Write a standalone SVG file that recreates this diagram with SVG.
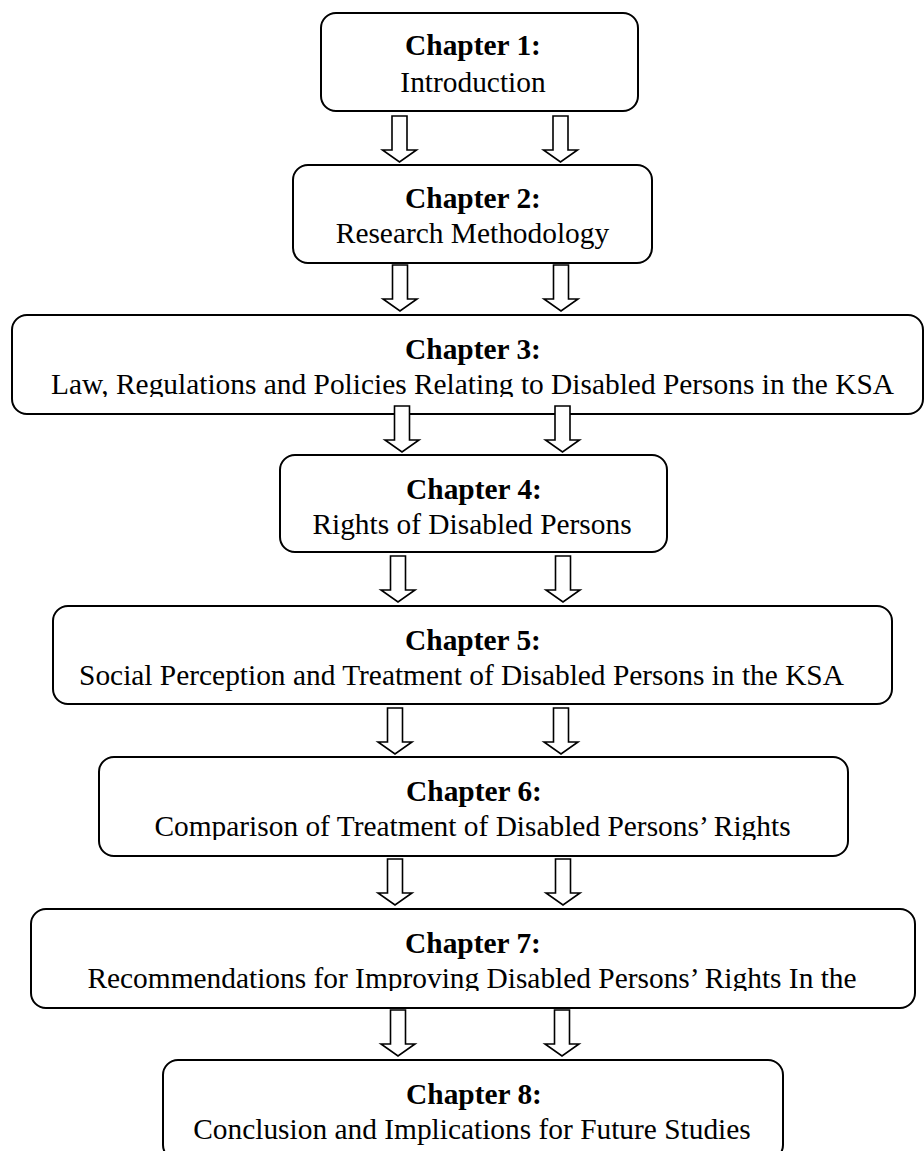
<svg xmlns="http://www.w3.org/2000/svg" width="924" height="1151" viewBox="0 0 924 1151">
<style>
.box{fill:#fff;stroke:#000;stroke-width:2}
.arr{fill:#fff;stroke:#000;stroke-width:1.6;stroke-linejoin:miter}
.t{font-family:"Liberation Serif","Times New Roman",serif;font-size:29.4px;fill:#000;text-anchor:middle}
.b{font-weight:bold}
</style>
<defs>
<clipPath id="c3"><rect x="0" y="300" width="924" height="97"/></clipPath>
<clipPath id="c6"><rect x="0" y="740" width="924" height="100"/></clipPath>
<clipPath id="c7"><rect x="0" y="890" width="924" height="101"/></clipPath>
<path id="a" d="M-7.5,0 H7.5 V34 H17 L0,46 L-17,34 H-7.5 Z"/>
</defs>
<rect width="924" height="1151" fill="#fff"/>
<g id="n1"><rect class="box" x="321" y="13" width="317" height="98" rx="15"/>
<text class="t b" x="473" y="55">Chapter 1:</text><text class="t" x="473" y="92">Introduction</text></g>
<g id="n2"><rect class="box" x="293" y="165" width="359" height="98" rx="15"/>
<text class="t b" x="473" y="208">Chapter 2:</text><text class="t" x="472.5" y="243">Research Methodology</text></g>
<g id="n3"><rect class="box" x="12" y="315" width="911" height="99" rx="15"/>
<text class="t b" x="473" y="359">Chapter 3:</text><text class="t" x="472.5" y="394" clip-path="url(#c3)">Law, Regulations and Policies Relating to Disabled Persons in the KSA</text></g>
<g id="n4"><rect class="box" x="280" y="455" width="387" height="97" rx="15"/>
<text class="t b" x="474" y="499">Chapter 4:</text><text class="t" x="472" y="534">Rights of Disabled Persons</text></g>
<g id="n5"><rect class="box" x="53" y="606" width="839" height="98" rx="15"/>
<text class="t b" x="473" y="650">Chapter 5:</text><text class="t" x="461.5" y="685">Social Perception and Treatment of Disabled Persons in the KSA</text></g>
<g id="n6"><rect class="box" x="99" y="757" width="749" height="99" rx="15"/>
<text class="t b" x="474" y="801">Chapter 6:</text><text class="t" x="472.5" y="836" clip-path="url(#c6)">Comparison of Treatment of Disabled Persons’ Rights</text></g>
<g id="n7"><rect class="box" x="31" y="909" width="884" height="99" rx="15"/>
<text class="t b" x="473" y="953">Chapter 7:</text><text class="t" x="472" y="988" clip-path="url(#c7)">Recommendations for Improving Disabled Persons’ Rights In the</text></g>
<g id="n8"><rect class="box" x="163" y="1060" width="620" height="100" rx="15"/>
<text class="t b" x="474" y="1104">Chapter 8:</text><text class="t" x="472" y="1139">Conclusion and Implications for Future Studies</text></g>
<g id="connectors">
<use href="#a" class="arr" x="399.5" y="116"/><use href="#a" class="arr" x="560.5" y="116"/>
<use href="#a" class="arr" x="400" y="265"/><use href="#a" class="arr" x="561" y="265"/>
<use href="#a" class="arr" x="402" y="406"/><use href="#a" class="arr" x="562.5" y="406"/>
<use href="#a" class="arr" x="398" y="556"/><use href="#a" class="arr" x="563" y="556"/>
<use href="#a" class="arr" x="395" y="708"/><use href="#a" class="arr" x="561" y="708"/>
<use href="#a" class="arr" x="395" y="859"/><use href="#a" class="arr" x="563" y="859"/>
<use href="#a" class="arr" x="398" y="1010"/><use href="#a" class="arr" x="562" y="1010"/>
</g>
</svg>
